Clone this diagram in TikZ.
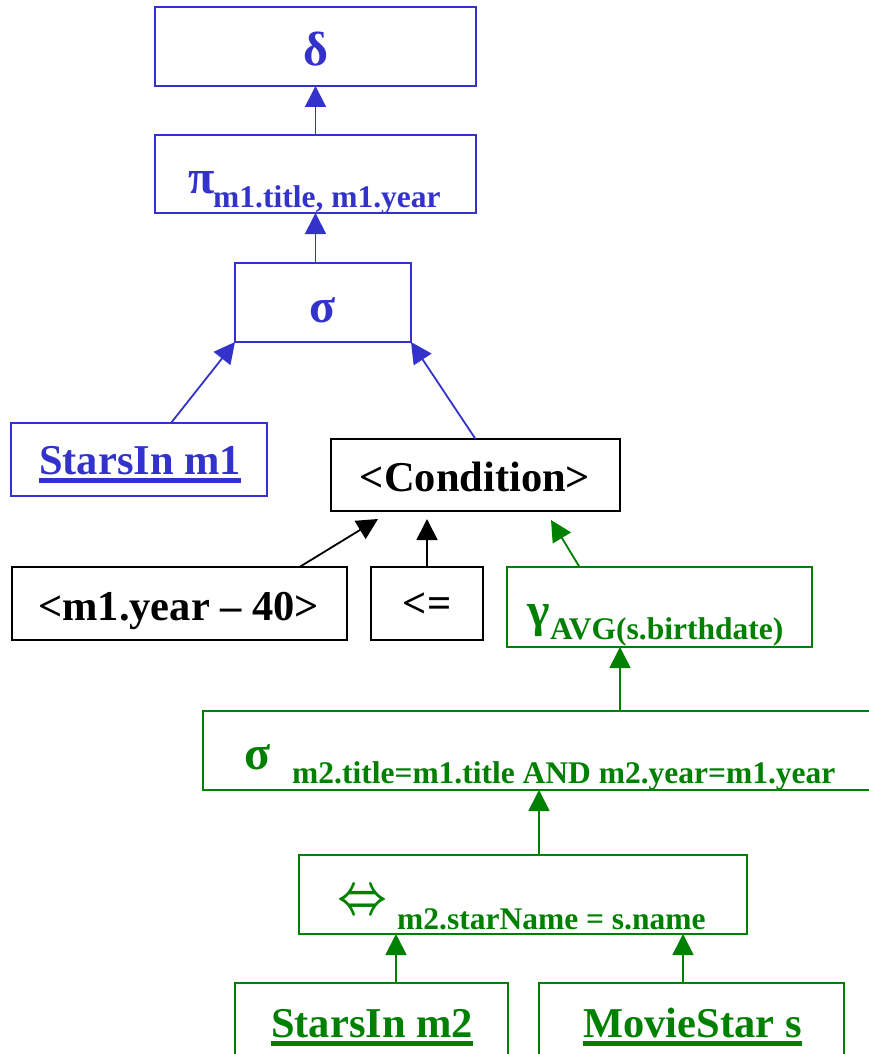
\documentclass[tikz,border=0pt]{standalone}
\usepackage{fontspec}
\setmainfont{Liberation Serif}
\usetikzlibrary{arrows.meta}

\definecolor{relblue}{RGB}{51,51,204}
\definecolor{relgreen}{RGB}{0,128,0}

% thick underline for relation names
\newcommand\heavyul[1]{\setbox0=\hbox{#1}\rlap{\rule[-9pt]{\wd0}{5pt}}\box0}
\newcommand\grkfont{\fontsize{48}{56}\selectfont\mdseries}
\newcommand\subfont{\fontsize{31.5}{36}\selectfont\bfseries}

\tikzset{
  opbox/.style={draw, line width=1.8pt, inner sep=0pt, outer sep=0pt, anchor=north west},
  bluebox/.style={opbox, draw=relblue},
  greenbox/.style={opbox, draw=relgreen},
  blackbox/.style={opbox, draw=black},
  edge/.style={line width=1.8pt, -{Triangle[width=21pt,length=21pt]}},
  blueedge/.style={edge, draw=relblue, fill=relblue},
  greenedge/.style={edge, draw=relgreen, fill=relgreen},
  blackedge/.style={edge, draw=black, fill=black},
  txt/.style={inner sep=0pt, font=\bfseries\fontsize{42.5}{50}\selectfont},
  grkb/.style={inner sep=0pt, font=\grkfont\bfseries},
  subtxt/.style={inner sep=0pt, font=\subfont},
}

\begin{document}
\begin{tikzpicture}[x=1pt, y=-1pt]
\useasboundingbox (0,0) rectangle (869,1054);
\clip (0,0) rectangle (869,1054);

% ---- boxes ----
\node[bluebox, minimum width=321pt, minimum height=79pt] (dup)  at (155,7) {};
\node[bluebox, minimum width=321pt, minimum height=78pt] (proj) at (155,135) {};
\node[bluebox, minimum width=176pt, minimum height=79pt] (sel)  at (235,263) {};
\node[bluebox, minimum width=256pt, minimum height=73pt] (sm1)  at (11,423) {};
\node[blackbox, minimum width=289pt, minimum height=72pt] (cond) at (331,439) {};
\node[blackbox, minimum width=335pt, minimum height=73pt] (yr)  at (12,567) {};
\node[blackbox, minimum width=112pt, minimum height=73pt] (leq) at (371,567) {};
\node[greenbox, minimum width=305pt, minimum height=80pt] (gam)  at (507,567) {};
\node[greenbox, minimum width=700pt, minimum height=79pt] (sel2) at (203,711) {};
\node[greenbox, minimum width=448pt, minimum height=79pt] (join) at (299,855) {};
\node[greenbox, minimum width=273pt, minimum height=100pt] (sm2) at (235,983) {};
\node[greenbox, minimum width=305pt, minimum height=100pt] (ms)  at (539,983) {};

% ---- labels ----
\node[grkb, text=relblue, anchor=base] (duptxt) at (316,66) {δ};
\node[grkb, text=relblue, anchor=base west] (projsym) at (188,193) {π};
\node[subtxt, text=relblue, anchor=base west] (projsub) at (213,207) {m1.title, m1.year};
\node[grkb, text=relblue, anchor=base] (seltxt) at (323,322) {σ};
\node[txt, text=relblue, anchor=base west] (sm1txt) at (39,474) {\heavyul{StarsIn m1}};
\node[txt, anchor=base] (condtxt) at (475,491) {<Condition>};
\node[txt, anchor=base west] (yrtxt) at (38,620) {<m1.year – 40>};
\node[txt, anchor=base] (leqtxt) at (427,617) {<=};
\node[grkb, text=relgreen, anchor=base west] (gamsym) at (527,626) {γ};
\node[subtxt, text=relgreen, anchor=base west] (gamsub) at (550,639) {AVG(s.birthdate)};
\node[grkb, text=relgreen, anchor=base west] (sel2sym) at (244,769) {σ};
\node[subtxt, text=relgreen, anchor=base west] (sel2sub) at (292,783) {m2.title=m1.title AND m2.year=m1.year};
\node[inner sep=0pt, text=relgreen] (joinsym) at (363,902) {\resizebox{50pt}{22pt}{\boldmath$\Leftrightarrow$}};
\node[subtxt, text=relgreen, anchor=base west] (joinsub) at (397,929) {m2.starName = s.name};
\node[txt, text=relgreen, anchor=base west] (sm2txt) at (271,1037) {\heavyul{StarsIn m2}};
\node[txt, text=relgreen, anchor=base west] (mstxt) at (583,1037) {\heavyul{MovieStar s}};

% ---- connectors ----
\draw[blueedge] (proj.north) -- (dup.south);
\draw[blueedge] (proj.south |- sel.north) -- (proj.south);
\draw[blueedge] ([xshift=32pt]sm1.north) -- (sel.south west);
\draw[blueedge] (cond.north) -- (sel.south east);

\coordinate (condL) at (378,519);
\coordinate (condM) at (427,519);
\coordinate (condR) at (551,520);
\draw[blackedge] ([xshift=120pt]yr.north) -- (condL);
\draw[blackedge] (leq.north) -- (condM);
\draw[greenedge] ([xshift=-80pt]gam.north) -- (condR);

\coordinate (gamIn) at ([xshift=-39.5pt]gam.south);
\draw[greenedge] (sel2.north -| gamIn) -- (gamIn);
\coordinate (joinOut) at ([xshift=16pt]join.north);
\draw[greenedge] (joinOut) -- (joinOut |- sel2.south);
\coordinate (sm2Out) at ([xshift=24.5pt]sm2.north);
\draw[greenedge] (sm2Out) -- (sm2Out |- join.south);
\coordinate (msOut) at ([xshift=-8.5pt]ms.north);
\draw[greenedge] (msOut) -- (msOut |- join.south);
\end{tikzpicture}
\end{document}
